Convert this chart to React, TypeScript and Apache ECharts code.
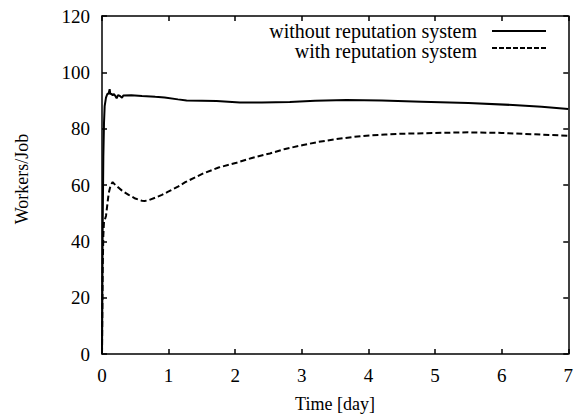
import React, { useEffect, useRef } from "react";
import * as echarts from "echarts";

const xTicks = [0, 1, 2, 3, 4, 5, 6, 7];
const yTicks = [0, 20, 40, 60, 80, 100, 120];

const withoutDays = [0, 0.005, 0.01, 0.02, 0.03, 0.04, 0.06, 0.08, 0.1, 0.115, 0.125, 0.14, 0.16, 0.18, 0.2, 0.22, 0.24, 0.27, 0.3, 0.32, 0.44, 0.6, 0.8, 0.94, 1.14, 1.27, 1.5, 1.72, 2.07, 2.4, 2.82, 3.2, 3.67, 4.2, 4.8, 5.5, 6.17, 6.6, 7.0];
const withoutVals = [0, 20, 45, 70, 82, 88, 91, 92.3, 92.5, 94, 92.2, 92.5, 91.8, 92.3, 91.6, 90.8, 91.9, 91.6, 91, 91.8, 91.9, 91.6, 91.3, 91.1, 90.4, 90.0, 89.9, 89.8, 89.3, 89.3, 89.5, 89.9, 90.2, 90.0, 89.6, 89.1, 88.4, 87.8, 87.0];

const withDays = [0, 0.005, 0.01, 0.02, 0.03, 0.04, 0.06, 0.08, 0.1, 0.13, 0.16, 0.18, 0.2, 0.25, 0.3, 0.4, 0.5, 0.6, 0.64, 0.7, 0.8, 0.9, 1.0, 1.14, 1.25, 1.52, 1.75, 2.02, 2.25, 2.52, 2.75, 3.02, 3.25, 3.52, 3.75, 3.97, 4.25, 4.5, 4.87, 5.25, 5.5, 6.0, 6.5, 7.0];
const withVals = [0, 15, 30, 42, 47, 47.5, 49, 53, 57, 60, 61, 60.5, 60, 59, 58, 56.5, 55.2, 54.4, 54.3, 54.6, 55.5, 56.5, 57.7, 59.4, 61, 64.1, 66.2, 67.9, 69.6, 71.2, 72.8, 74.2, 75.3, 76.3, 77, 77.5, 77.9, 78.2, 78.4, 78.6, 78.7, 78.5, 78.0, 77.5];

const seriesNames = ["without reputation system", "with reputation system"];

const FONT = "Liberation Serif";
const FS = 18;

export default function App() {
  const ref = useRef<HTMLDivElement>(null);
  useEffect(() => {
    if (!ref.current) return;
    const chart = echarts.init(ref.current, null, { renderer: "svg" });
    const axisCommon = {
      type: "value" as const,
      axisLine: { show: true, onZero: false, lineStyle: { color: "#000", width: 1.5 } },
      axisTick: { show: true, inside: true, length: 5, lineStyle: { color: "#000", width: 1.5 } },
      splitLine: { show: false },
    };
    const textStyle = { fill: "#000", fontFamily: FONT, fontSize: FS };
    chart.setOption({
      animation: false,
      backgroundColor: "#fff",
      textStyle: { fontFamily: FONT },
      grid: { left: 102, right: 7, top: 16, bottom: 63, containLabel: false },
      xAxis: [
        {
          ...axisCommon,
          position: "bottom",
          min: xTicks[0],
          max: xTicks[xTicks.length - 1],
          interval: 1,
          axisLabel: { color: "#000", fontFamily: FONT, fontSize: FS + 1, margin: 12 },
        },
        {
          ...axisCommon,
          position: "top",
          min: xTicks[0],
          max: xTicks[xTicks.length - 1],
          interval: 1,
          axisLabel: { show: false },
        },
      ],
      yAxis: [
        {
          ...axisCommon,
          position: "left",
          min: yTicks[0],
          max: yTicks[yTicks.length - 1],
          interval: 20,
          axisLabel: { color: "#000", fontFamily: FONT, fontSize: FS + 1, margin: 12 },
        },
        {
          ...axisCommon,
          position: "right",
          min: yTicks[0],
          max: yTicks[yTicks.length - 1],
          interval: 20,
          axisLabel: { show: false },
        },
      ],
      series: [
        {
          name: seriesNames[0],
          type: "line",
          showSymbol: false,
          symbol: "none",
          data: withoutDays.map((d, i) => [d, withoutVals[i]]),
          lineStyle: { color: "#000", width: 2 },
        },
        {
          name: seriesNames[1],
          type: "line",
          showSymbol: false,
          symbol: "none",
          data: withDays.map((d, i) => [d, withVals[i]]),
          lineStyle: { color: "#000", width: 2, type: [6, 3] },
        },
      ],
      graphic: [
        {
          type: "text",
          x: 477,
          y: 31,
          style: { ...textStyle, fontSize: 20, text: seriesNames[0], align: "right", verticalAlign: "middle" },
        },
        {
          type: "text",
          x: 477,
          y: 51,
          style: { ...textStyle, fontSize: 20, text: seriesNames[1], align: "right", verticalAlign: "middle" },
        },
        {
          type: "line",
          shape: { x1: 492, y1: 31, x2: 546, y2: 31 },
          style: { stroke: "#000", lineWidth: 2 },
        },
        {
          type: "line",
          shape: { x1: 492, y1: 48, x2: 546, y2: 48 },
          style: { stroke: "#000", lineWidth: 2, lineDash: [5, 2] },
        },
        {
          type: "text",
          x: 335,
          y: 404,
          style: { ...textStyle, text: "Time [day]", align: "center", verticalAlign: "middle" },
        },
        {
          type: "text",
          x: 22,
          y: 179,
          rotation: Math.PI / 2,
          style: { ...textStyle, text: "Workers/Job", align: "center", verticalAlign: "middle" },
        },
      ],
    });
    return () => chart.dispose();
  }, []);
  return <div ref={ref} style={{ width: 576, height: 417, position: "absolute", left: 0, top: 0 }} />;
}
